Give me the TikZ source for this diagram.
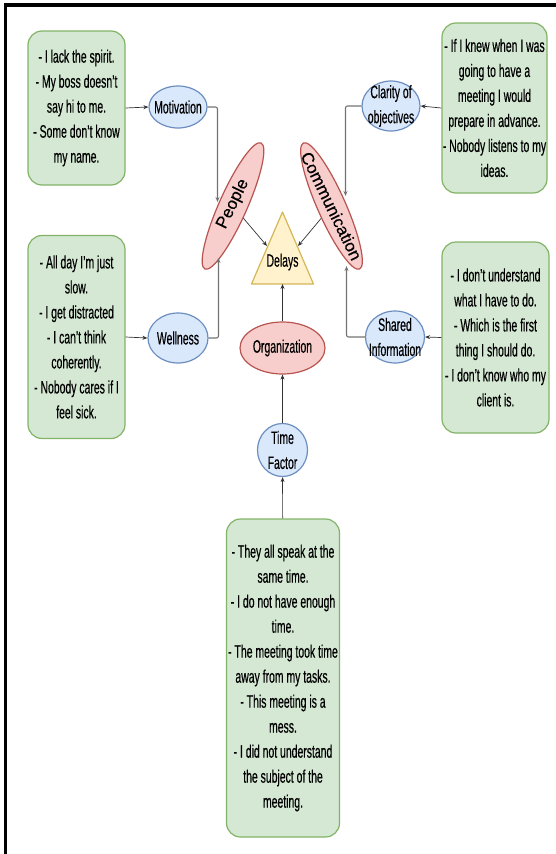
\documentclass[tikz,border=0pt]{standalone}
\usepackage{fontspec}
\setmainfont[FakeStretch=0.58,FakeBold=0.4]{Liberation Sans}
\newfontfamily\rotfont[FakeBold=0.4]{Liberation Sans}
\usetikzlibrary{arrows.meta,shapes.geometric}
\definecolor{gfill}{HTML}{D5E8D4}
\definecolor{gstroke}{HTML}{82B366}
\definecolor{bfill}{HTML}{DAE8FC}
\definecolor{bstroke}{HTML}{6C8EBF}
\definecolor{rfill}{HTML}{F8CECC}
\definecolor{rstroke}{HTML}{B85450}
\definecolor{yfill}{HTML}{FFF2CC}
\definecolor{ystroke}{HTML}{D6B656}
\begin{document}
\begin{tikzpicture}[x=1pt,y=-1pt,
  txtfont/.style={font=\fontsize{18}{25}\selectfont},
  greenbox/.style={rectangle, rounded corners=14pt, draw=gstroke, fill=gfill, line width=1.2pt, inner sep=0pt, align=center, txtfont},
  blueell/.style={ellipse, draw=bstroke, fill=bfill, line width=1.2pt, inner sep=0pt},
  redell/.style={ellipse, draw=rstroke, fill=rfill, line width=1.2pt, inner sep=0pt},
  lbl/.style={align=center, inner sep=0pt, txtfont},
  rotlbl/.style={inner sep=0pt, font=\rotfont\fontsize{17}{20}\selectfont},
  edge/.style={-{Stealth[length=5pt,width=4pt]}, draw=black!80, line width=0.7pt},
  elbow/.style={edge, draw=black!55, line width=1.1pt, rounded corners=2pt}]
\useasboundingbox (0,0) rectangle (556,854);
% frame
\draw[line width=3.5pt] (5.5,854) -- (5.5,5) -- (556,5);

% green boxes
\node[greenbox, minimum width=97pt, minimum height=154pt] (b1) at (76.5,108) {- I lack the spirit.\\- My boss doesn't\\say hi to me.\\- Some don't know\\my name.};
\node[greenbox, minimum width=105pt, minimum height=170pt] (b2) at (494.5,108) {- If I knew when I was\\going to have a\\meeting I would\\prepare in advance.\\- Nobody listens to my\\ideas.};
\node[greenbox, minimum width=97pt, minimum height=203pt] (b3) at (76.5,337) {- All day I'm just\\slow.\\- I get distracted\\- I can't think\\coherently.\\- Nobody cares if I\\feel sick.};
\node[greenbox, minimum width=107pt, minimum height=191pt] (b4) at (495.5,337.5) {- I don't understand\\what I have to do.\\- Which is the first\\thing I should do.\\- I don't know who my\\client is.};
\node[greenbox, minimum width=113pt, minimum height=318pt] (b5) at (283,678) {- They all speak at the\\same time.\\- I do not have enough\\time.\\- The meeting took time\\away from my tasks.\\- This meeting is a\\mess.\\- I did not understand\\the subject of the\\meeting.};

% blue ellipses
\node[blueell, minimum width=58pt, minimum height=42pt] (mot) at (178,107) {};
\node[lbl] (mot-t) at (mot) {Motivation};
\node[blueell, minimum width=58pt, minimum height=50pt] (cla) at (391,106) {};
\node[lbl] (cla-t) at (cla) {Clarity of\\objectives};
\node[blueell, minimum width=60pt, minimum height=50pt] (wel) at (178,338) {};
\node[lbl] (wel-t) at (wel) {Wellness};
\node[blueell, minimum width=59pt, minimum height=52pt] (sha) at (395,337) {};
\node[lbl] (sha-t) at (sha) {Shared\\Information};
\node[blueell, minimum width=50pt, minimum height=53pt] (tim) at (282.5,450) {};
\node[lbl] (tim-t) at (tim) {Time\\Factor};

% red ellipses
\node[redell, minimum width=85pt, minimum height=52pt] (org) at (282.5,348) {};
\node[lbl] (org-t) at (org) {Organization};
\node[redell, rotate=66, minimum width=138pt, minimum height=28pt] (peo) at (233,206) {};
\node[rotlbl, rotate=64] (peo-t) at (233,204) {People};
\node[redell, rotate=-66, minimum width=138pt, minimum height=28pt] (com) at (331.5,206) {};
\node[rotlbl, rotate=-64] (com-t) at (com) {Communication};

% delays triangle
\coordinate (dT) at (282.5,212);
\coordinate (dBR) at (313.5,284);
\coordinate (dBL) at (251.5,284);
\draw[draw=ystroke, fill=yfill, line width=1.2pt, line join=round] (dT) -- (dBR) -- (dBL) -- cycle;
\node[lbl] (del) at (282.5,262) {Delays};
\coordinate (dL) at (267,246);
\coordinate (dR) at (298,246);
\coordinate (dB) at (282.5,284);

% pins on rotated ellipses
\coordinate (pA) at (217.5,202);
\coordinate (pB) at (218.5,258);
\coordinate (pC) at (345.5,196);
\coordinate (pD) at (346.5,266);

% connectors
\draw[edge] (b1.east) -- (mot.west);
\draw[edge] (b3.east) -- (wel.west);
\draw[edge] (b2.west) -- (cla.east);
\draw[edge] (b4.west) -- (sha.east);
\draw[elbow] (mot.east) -| (pA);
\draw[elbow] (wel.east) -| (pB);
\draw[elbow] (cla.west) -| (pC);
\draw[elbow] (sha.west) -| (pD);
\draw[edge] (peo) -- (dL);
\draw[edge] (com) -- (dR);
\draw[edge] (org) -- (dB);
\draw[edge] (tim) -- (org);
\draw[edge] (b5) -- (tim);
\end{tikzpicture}
\end{document}
